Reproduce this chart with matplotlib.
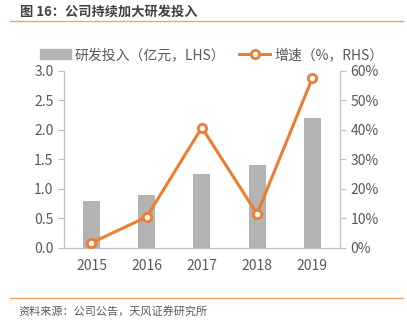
import matplotlib.pyplot as plt
from matplotlib.lines import Line2D

plt.rcParams['font.family'] = ['Noto Sans CJK SC', 'DejaVu Sans']

years = ['2015', '2016', '2017', '2018', '2019']
rd_invest = [0.80, 0.89, 1.25, 1.40, 2.21]   # 亿元
growth = [1.7, 10.5, 40.8, 11.5, 57.5]       # %

gray = '#b3b3b3'
orange = '#ed7d31'
txt = '#595959'

fig = plt.figure(figsize=(4.07, 3.24), dpi=100)
ax = fig.add_axes([0.157, 0.235, 0.678, 0.546])
ax2 = ax.twinx()

x = range(len(years))
ax.bar(x, rd_invest, width=0.31, color=gray, zorder=2)
ax2.plot(x, growth, color=orange, lw=2.2, marker='o', ms=6,
         mfc='white', mec=orange, mew=2, zorder=3)

ax.set_ylim(0, 3.0)
ax.set_yticks([0, 0.5, 1.0, 1.5, 2.0, 2.5, 3.0])
ax.set_yticklabels(['%.1f' % v for v in ax.get_yticks()])
ax2.set_ylim(0, 60)
ax2.set_yticks(range(0, 61, 10))
ax2.set_yticklabels(['%d%%' % v for v in range(0, 61, 10)])
ax.set_xlim(-0.5, 4.5)
ax.set_xticks(list(x))
ax.set_xticklabels(years)

for a in (ax, ax2):
    a.spines['top'].set_visible(False)
    for s in ('left', 'right', 'bottom'):
        a.spines[s].set_color('#bfbfbf')
    a.tick_params(colors='#bfbfbf', labelcolor=txt, labelsize=10, length=4)
ax.tick_params(axis='x', length=0, pad=8)

handles = [plt.Rectangle((0, 0), 1, 1, color=gray),
           Line2D([], [], color=orange, lw=2.2, marker='o', ms=6,
                  mfc='white', mec=orange, mew=2)]
fig.legend(handles, ['研发投入（亿元，LHS）', '增速（%，RHS）'],
           loc='center', bbox_to_anchor=(0.52, 0.83), ncol=2, frameon=False,
           fontsize=10, labelcolor=txt, handlelength=2.2, columnspacing=1.0,
           handletextpad=0.3)

fig.text(0.05, 0.965, '图 16：公司持续加大研发投入', fontsize=9.5,
         fontweight='bold', color='#404040', va='center')
fig.add_artist(Line2D([0.025, 0.99], [0.935, 0.935], color='#f4a460', lw=1))
fig.add_artist(Line2D([0.025, 0.99], [0.08, 0.08], color='#f4a460', lw=1))
fig.text(0.045, 0.04, '资料来源：公司公告，天风证券研究所', fontsize=8,
         color=txt, va='center')

fig.savefig('out.png', dpi=100)
